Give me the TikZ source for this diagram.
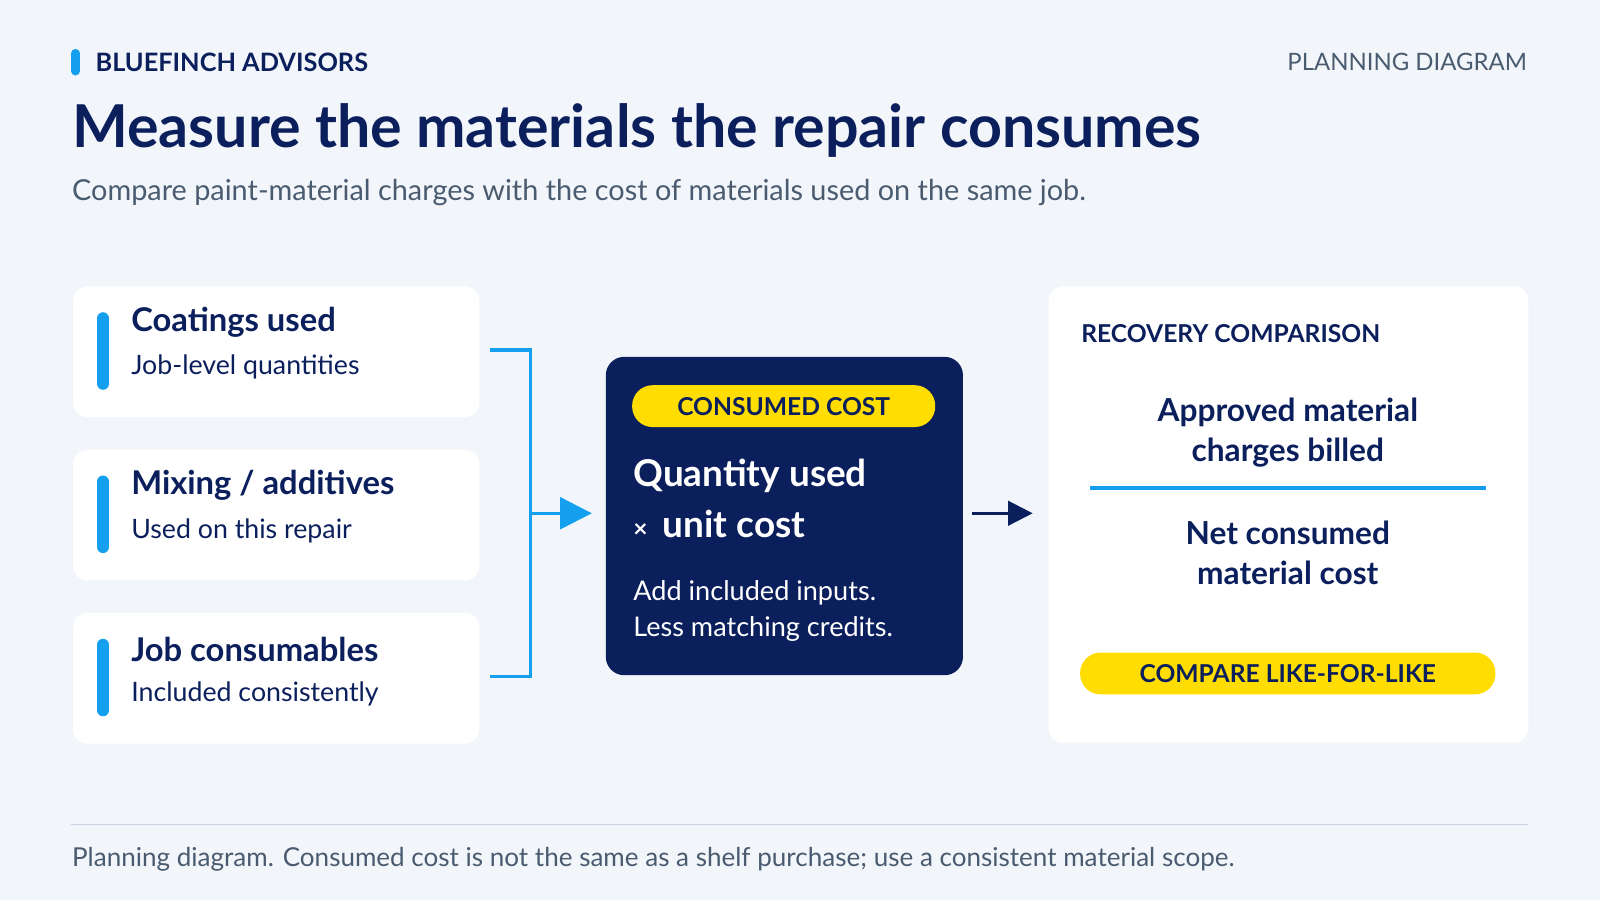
\documentclass[tikz,border=0pt]{standalone}
\usepackage{fontspec}
\setmainfont{Lato}
\usetikzlibrary{arrows.meta,positioning}
\definecolor{bgpage}{HTML}{F2F6FB}
\definecolor{navy}{HTML}{0B1F5C}
\definecolor{brandblue}{HTML}{14A0EE}
\definecolor{sunny}{HTML}{FFDD00}
\definecolor{slate}{HTML}{4A5B70}
\definecolor{rulegrey}{HTML}{C9D5E3}
\def\u{0.0102cm}

\begin{document}
\begin{tikzpicture}[x=0.0102cm,y=-0.0102cm,
    card/.style={fill=white, rounded corners=14*\u, draw=none},
    accent/.style={line width=12*\u, brandblue, line cap=round},
    cardtitle/.style={anchor=west, text=navy, font=\fontsize{9.3}{11}\selectfont\bfseries, inner sep=0pt},
    cardsub/.style={anchor=west, text=navy, font=\fontsize{7.6}{9}\selectfont, inner sep=0pt},
    pill/.style={fill=sunny, rounded corners=20*\u, text=navy, font=\fontsize{7}{9}\selectfont\bfseries, inner sep=0pt, minimum height=41*\u},
    bigtext/.style={text=navy, font=\fontsize{9}{11.3}\selectfont\bfseries, align=center, inner sep=0pt}
  ]
  % page
  \fill[bgpage] (0,0) rectangle (1568,882);
  \useasboundingbox (0,0) rectangle (1568,882);

  % header
  \draw[accent, line width=8*\u] (74,52) -- (74,70);
  \node[anchor=west, text=navy, font=\fontsize{7.2}{9}\selectfont\bfseries, inner sep=0pt] (brand) at (93,61) {BLUEFINCH ADVISORS};
  \node[anchor=east, text=slate, font=\fontsize{6.8}{9}\selectfont, inner sep=0pt] (kind) at (1497,61) {PLANNING DIAGRAM};
  \node[anchor=west, text=navy, font=\fontsize{16.8}{20}\selectfont\bfseries, inner sep=0pt] (title) at (70,128) {Measure the materials the repair consumes};
  \node[anchor=west, text=slate, font=\fontsize{8.2}{10}\selectfont, inner sep=0pt] (subtitle) at (70,189) {Compare paint-material charges with the cost of materials used on the same job.};

  % input cards
  \foreach \name/\top/\head/\sub in {coat/280/{Coatings used}/{Job-level quantities},
      mix/440/{Mixing {/} additives}/{Used on this repair},
      cons/600/{Job consumables}/{Included consistently}}{
    \node[card, anchor=north west, minimum width=398*\u, minimum height=128*\u] (\name) at (71,\top) {};
    \draw[accent] (101,\top+32) -- (101,\top+96);
    \node[cardtitle] (\name-head) at (128,\top+36) {\head};
    \node[cardsub] (\name-sub) at (128,\top+80) {\sub};
  }

  % bracket
  \coordinate (btop) at (480,343);
  \coordinate (bbot) at (480,663);
  \coordinate (bmid) at (520,503);
  \draw[brandblue, line width=3*\u] (btop) -| (bbot -| bmid) -- (bbot);
  \draw[brandblue, line width=3*\u, -{Triangle[length=9pt,width=9pt]}] (bmid) -- (580,503);

  % consumed cost
  \node[fill=navy, rounded corners=18*\u, anchor=north west, minimum width=350*\u, minimum height=312*\u] (calc) at (593,349) {};
  \node[pill, minimum width=297*\u] (calc-tag) at (768,398) {CONSUMED COST};
  \node[anchor=west, text=white, font=\fontsize{10.5}{14}\selectfont\bfseries, inner sep=0pt] (calc-line1) at (620,466) {Quantity used};
  \node[anchor=west, text=white, font=\fontsize{10.5}{14}\selectfont\bfseries, inner sep=0pt] (calc-line2) at (620,513) {{\fontsize{7}{9}\selectfont ×}\, unit cost};
  \node[anchor=north west, text=white, font=\fontsize{7.7}{10.2}\selectfont, align=left, inner sep=0pt] (calc-note) at (620,568) {Add included inputs.\\Less matching credits.};

  % recovery comparison
  \node[card, anchor=north west, minimum width=470*\u, minimum height=447*\u] (recov) at (1027,280) {};
  \coordinate (recov-in) at (1012,503);
  \draw[navy, line width=2.5*\u, -{Triangle[length=7pt,width=7pt]}] (953,503) -- (recov-in);
  \node[anchor=west, text=navy, font=\fontsize{7}{9}\selectfont\bfseries, inner sep=0pt] (recov-head) at (1059,327) {RECOVERY COMPARISON};
  \node[bigtext] (numer) at (1262,424) {Approved material\\charges billed};
  \draw[brandblue, line width=4*\u] (1068,478) -- (1456,478);
  \node[bigtext] (denom) at (1262,542) {Net consumed\\material cost};
  \node[pill, minimum width=407*\u] (recov-tag) at (1262,660) {COMPARE LIKE-FOR-LIKE};

  % footer
  \draw[rulegrey, line width=1.5*\u] (70,808) -- (1497,808);
  \node[anchor=west, text=slate, font=\fontsize{7.4}{9}\selectfont, inner sep=0pt] (foot) at (70,842) {Planning diagram. Consumed cost is not the same as a shelf purchase; use a consistent material scope.};
\end{tikzpicture}
\end{document}
